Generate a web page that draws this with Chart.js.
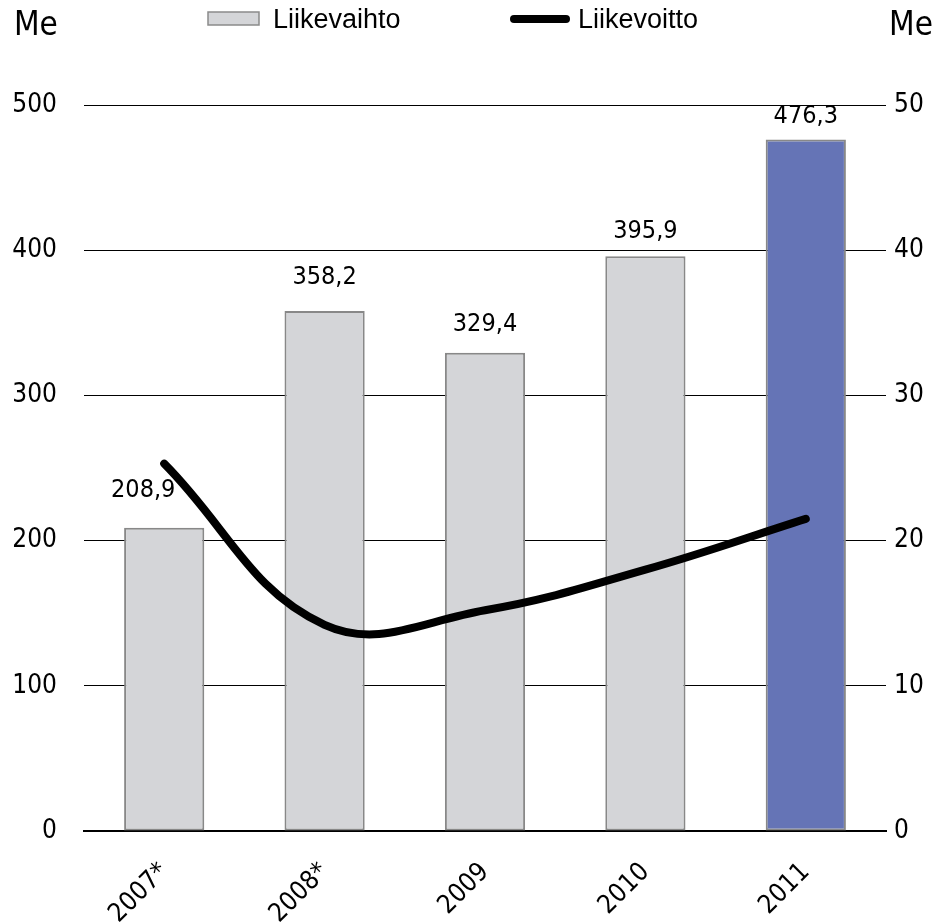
<!DOCTYPE html>
<html lang="fi">
    <head>
        <meta charset="UTF-8" />
        <title>Liikevaihto ja liikevoitto</title>
        <script src="https://cdn.jsdelivr.net/npm/chart.js"></script>
        <style>
            body { margin: 0; background: #fff; }
            #wrap { width: 942px; height: 922px; }
        </style>
    </head>
    <body>
        <div id="wrap"><canvas id="myChart"></canvas></div>

        <script>
            // Vuodet ja arvot (Me)
            const vuodet = ["2007*", "2008*", "2009", "2010", "2011"];
            const liikevaihto = [208.9, 358.2, 329.4, 395.9, 476.3];
            const liikevoitto = [25.3, 14.2, 15.2, 18.0, 21.5];
            const palkkiVarit = ["#d4d5d8", "#d4d5d8", "#d4d5d8", "#d4d5d8", "#6574b6"];
            const vasenTikit = [0, 100, 200, 300, 400, 500];
            const oikeaTikit = [0, 10, 20, 30, 40, 50];

            const narrow = "'Liberation Sans Narrow', 'DejaVu Sans Condensed', sans-serif";
            const regular = "'Liberation Sans', Arial, sans-serif";

            // arvot palkkien päälle, legenda ja yksiköt
            const tekstit = {
                id: "tekstit",
                beforeDatasetsDraw(chart) {
                    const ctx = chart.ctx;
                    ctx.save();
                    ctx.fillStyle = "#000";
                    ctx.font = "25px " + narrow;
                    ctx.textAlign = "center";
                    ctx.textBaseline = "middle";
                    // ensimmäinen arvo siirretty vasemmalle viivan tieltä
                    const siirrot = [[-21, 37], [0, 33], [0, 28], [0, 25], [0, 23]];
                    const meta = chart.getDatasetMeta(0);
                    meta.data.forEach((bar, i) => {
                        const [dx, dy] = siirrot[i] || [0, 29];
                        ctx.fillText(liikevaihto[i].toFixed(1).replace(".", ","), bar.x + dx, bar.y - dy);
                    });
                    ctx.restore();
                },
                afterDraw(chart) {
                    const ctx = chart.ctx;
                    ctx.save();
                    ctx.fillStyle = "#000";
                    ctx.textBaseline = "alphabetic";
                    ctx.font = "33px " + narrow;
                    ctx.textAlign = "left";
                    ctx.fillText("Me", 14, 35);
                    ctx.textAlign = "right";
                    ctx.fillText("Me", 933, 35);

                    // legenda
                    ctx.textAlign = "left";
                    ctx.font = "27px " + regular;
                    ctx.fillStyle = "#d4d5d8";
                    ctx.fillRect(208, 12, 51, 13);
                    ctx.strokeStyle = "#8a8a8a";
                    ctx.lineWidth = 1.5;
                    ctx.strokeRect(208, 12, 51, 13);
                    ctx.fillStyle = "#000";
                    ctx.fillText(chart.data.datasets[0].label, 273, 28);

                    ctx.beginPath();
                    ctx.moveTo(514, 19);
                    ctx.lineTo(566, 19);
                    ctx.lineWidth = 8;
                    ctx.lineCap = "round";
                    ctx.strokeStyle = "#000";
                    ctx.stroke();
                    ctx.fillText(chart.data.datasets[1].label, 578, 28);
                    ctx.restore();
                },
            };

            const ctx = document.getElementById("myChart").getContext("2d");
            const myChart = new Chart(ctx, {
                type: "bar",
                data: {
                    labels: vuodet,
                    datasets: [
                        {
                            label: "Liikevaihto",
                            data: liikevaihto,
                            backgroundColor: palkkiVarit,
                            borderColor: "#888888",
                            borderWidth: 2,
                            borderSkipped: false,
                            categoryPercentage: 1,
                            barPercentage: 0.5,
                            yAxisID: "y",
                            order: 1,
                        },
                        {
                            type: "line",
                            label: "Liikevoitto",
                            data: liikevoitto,
                            borderColor: "#000",
                            borderWidth: 8,
                            borderCapStyle: "round",
                            tension: 0.4,
                            pointRadius: 0,
                            fill: false,
                            yAxisID: "y1",
                            order: 0,
                        },
                    ],
                },
                options: {
                    responsive: true,
                    maintainAspectRatio: false,
                    animation: false,
                    layout: { padding: { top: 105, left: 0, right: 0, bottom: 0 } },
                    plugins: {
                        legend: { display: false },
                        tooltip: { enabled: false },
                    },
                    scales: {
                        x: {
                            grid: { display: false },
                            border: { color: "#000", width: 2 },
                            ticks: {
                                color: "#000",
                                font: { family: narrow, size: 26 },
                                maxRotation: 45,
                                minRotation: 45,
                                padding: 18,
                            },
                            afterFit(scale) { scale.height = 91; },
                        },
                        y: {
                            position: "left",
                            min: 0,
                            max: 500,
                            afterBuildTicks(scale) { scale.ticks = vasenTikit.map((v) => ({ value: v })); },
                            grid: { color: "#000", lineWidth: 1, drawTicks: false },
                            border: { display: false },
                            ticks: {
                                color: "#000",
                                font: { family: narrow, size: 26 },
                                padding: 27,
                            },
                            afterFit(scale) { scale.width = 84; },
                        },
                        y1: {
                            position: "right",
                            min: 0,
                            max: 50,
                            afterBuildTicks(scale) { scale.ticks = oikeaTikit.map((v) => ({ value: v })); },
                            grid: { display: false, drawTicks: false },
                            border: { display: false },
                            ticks: {
                                color: "#000",
                                font: { family: narrow, size: 26 },
                                padding: 8,
                            },
                            afterFit(scale) { scale.width = 56; },
                        },
                    },
                },
                plugins: [tekstit],
            });
        </script>
    </body>
</html>
